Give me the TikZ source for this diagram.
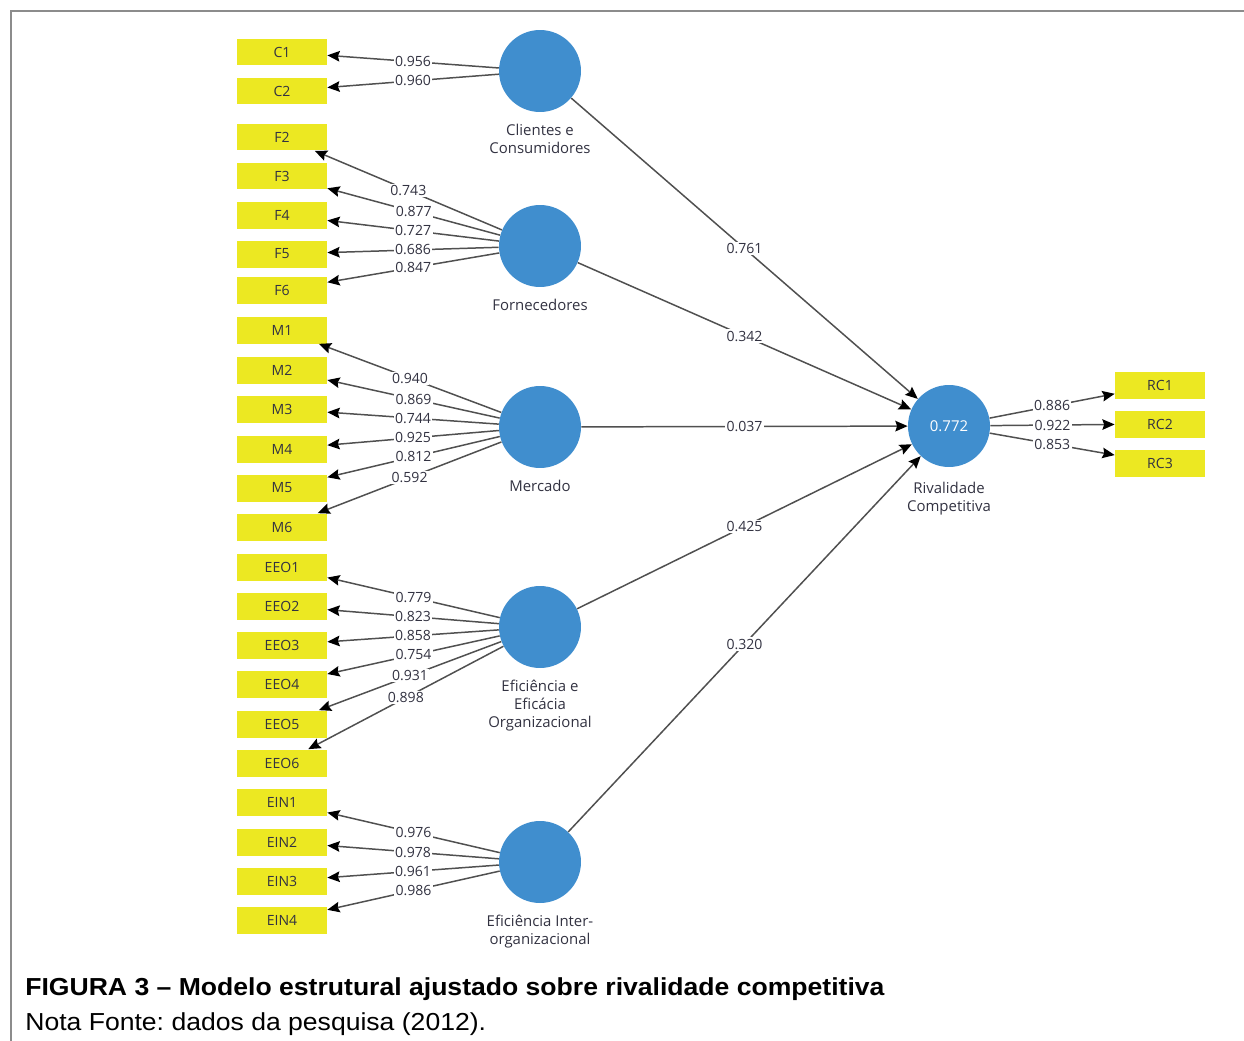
\documentclass[tikz,border=0pt]{standalone}
\usepackage{fontspec}
\setmainfont{Liberation Sans}
\newfontfamily\plsfont{Open Sans}
\usetikzlibrary{arrows.meta,positioning}
\definecolor{plsblue}{RGB}{64,142,206}
\definecolor{plsyellow}{RGB}{236,232,34}
\definecolor{plsline}{RGB}{80,80,80}
\definecolor{plstext}{RGB}{50,50,65}
\definecolor{framegray}{RGB}{140,140,140}
\frenchspacing
\begin{document}
\begin{tikzpicture}[x=0.02cm,y=-0.02cm,
    lv/.style={circle,fill=plsblue,minimum size=1.64cm,inner sep=0pt},
    ind/.style={rectangle,fill=plsyellow,minimum width=1.8cm,minimum height=0.54cm,
      inner sep=0pt,text=plstext,font=\plsfont\fontsize{8}{9.6}\selectfont},
    lvname/.style={align=center,inner sep=1pt,text=plstext,
      font=\plsfont\fontsize{8.5}{10.2}\selectfont},
    load/.style={draw=plsline,line width=0.85pt,
      -{Stealth[length=7pt,width=6pt,inset=1pt,color=black]}},
    coef/.style={fill=white,inner sep=0.8pt,text=plstext,
      font=\plsfont\fontsize{8}{9.6}\selectfont}]
  \useasboundingbox (0,0) rectangle (1244,1041);
  \draw[framegray,line width=1.3pt] (11,1041) -- (11,11) -- (1244,11);
  % latent variables
  \node[lv] (Cli) at (540,71) {};
  \node[lv] (For) at (540,246) {};
  \node[lv] (Mer) at (540,427) {};
  \node[lv] (EEO) at (540,627) {};
  \node[lv] (EIN) at (540,862) {};
  \node[lv,text=white,font=\plsfont\fontsize{8.5}{10.2}\selectfont] (Riv) at (949,426) {0.772};
  \node[lvname,below=0.2cm of Cli] (CliT) {Clientes e\\Consumidores};
  \node[lvname,below=0.2cm of For] (ForT) {Fornecedores};
  \node[lvname,below=0.2cm of Mer] (MerT) {Mercado};
  \node[lvname,below=0.2cm of EEO] (EEOT) {Eficiência e\\Eficácia\\Organizacional};
  \node[lvname,below=0.2cm of EIN] (EINT) {Eficiência Inter-\\organizacional};
  \node[lvname,below=0.25cm of Riv] (RivT) {Rivalidade\\Competitiva};
  % indicators
  \node[ind] (C1) at (282,52) {C1};
  \node[ind] (C2) at (282,91) {C2};
  \node[ind] (F2) at (282,137) {F2};
  \node[ind] (F3) at (282,176) {F3};
  \node[ind] (F4) at (282,215) {F4};
  \node[ind] (F5) at (282,254) {F5};
  \node[ind] (F6) at (282,290) {F6};
  \node[ind] (M1) at (282,330) {M1};
  \node[ind] (M2) at (282,370) {M2};
  \node[ind] (M3) at (282,409) {M3};
  \node[ind] (M4) at (282,449) {M4};
  \node[ind] (M5) at (282,488) {M5};
  \node[ind] (M6) at (282,527) {M6};
  \node[ind] (EEO1) at (282,567) {EEO1};
  \node[ind] (EEO2) at (282,606) {EEO2};
  \node[ind] (EEO3) at (282,645) {EEO3};
  \node[ind] (EEO4) at (282,684) {EEO4};
  \node[ind] (EEO5) at (282,724) {EEO5};
  \node[ind] (EEO6) at (282,763) {EEO6};
  \node[ind] (EIN1) at (282,802) {EIN1};
  \node[ind] (EIN2) at (282,842) {EIN2};
  \node[ind] (EIN3) at (282,881) {EIN3};
  \node[ind] (EIN4) at (282,920) {EIN4};
  \node[ind] (RC1) at (1160,385) {RC1};
  \node[ind] (RC2) at (1160,424) {RC2};
  \node[ind] (RC3) at (1160,463) {RC3};
  \begin{scope}[load]
    \draw (Cli) -- node[coef]{0.956} (C1);
    \draw (Cli) -- node[coef]{0.960} (C2);
    \draw (For) -- node[coef]{0.743} (F2);
    \draw (For) -- node[coef]{0.877} (F3);
    \draw (For) -- node[coef]{0.727} (F4);
    \draw (For) -- node[coef]{0.686} (F5);
    \draw (For) -- node[coef]{0.847} (F6);
    \draw (Mer) -- node[coef]{0.940} (M1);
    \draw (Mer) -- node[coef]{0.869} (M2);
    \draw (Mer) -- node[coef]{0.744} (M3);
    \draw (Mer) -- node[coef]{0.925} (M4);
    \draw (Mer) -- node[coef]{0.812} (M5);
    \draw (Mer) -- node[coef]{0.592} (M6);
    \draw (EEO) -- node[coef]{0.779} (EEO1);
    \draw (EEO) -- node[coef]{0.823} (EEO2);
    \draw (EEO) -- node[coef]{0.858} (EEO3);
    \draw (EEO) -- node[coef]{0.754} (EEO4);
    \draw (EEO) -- node[coef]{0.931} (EEO5);
    \draw (EEO) -- node[coef]{0.898} (EEO6);
    \draw (EIN) -- node[coef]{0.976} (EIN1);
    \draw (EIN) -- node[coef]{0.978} (EIN2);
    \draw (EIN) -- node[coef]{0.961} (EIN3);
    \draw (EIN) -- node[coef]{0.986} (EIN4);
    \draw (Cli) -- node[coef]{0.761} (Riv);
    \draw (For) -- node[coef]{0.342} (Riv);
    \draw (Mer) -- node[coef]{0.037} (Riv);
    \draw (EEO) -- node[coef]{0.425} (Riv);
    \draw (EIN) -- node[coef]{0.320} (Riv);
    \draw (Riv) -- node[coef]{0.886} (RC1);
    \draw (Riv) -- node[coef]{0.922} (RC2);
    \draw (Riv) -- node[coef]{0.853} (RC3);
  \end{scope}
  % caption
  \node[anchor=base west,inner sep=0pt,font=\fontsize{14}{16}\selectfont\bfseries] (cap) at (25,995)
    {\scalebox{1.08}[1]{FIGURA 3 – Modelo estrutural ajustado sobre rivalidade competitiva}};
  \node[anchor=base west,inner sep=0pt,font=\fontsize{14}{16}\selectfont] (note) at (25,1030)
    {\scalebox{1.08}[1]{Nota Fonte: dados da pesquisa (2012).}};
\end{tikzpicture}
\end{document}
